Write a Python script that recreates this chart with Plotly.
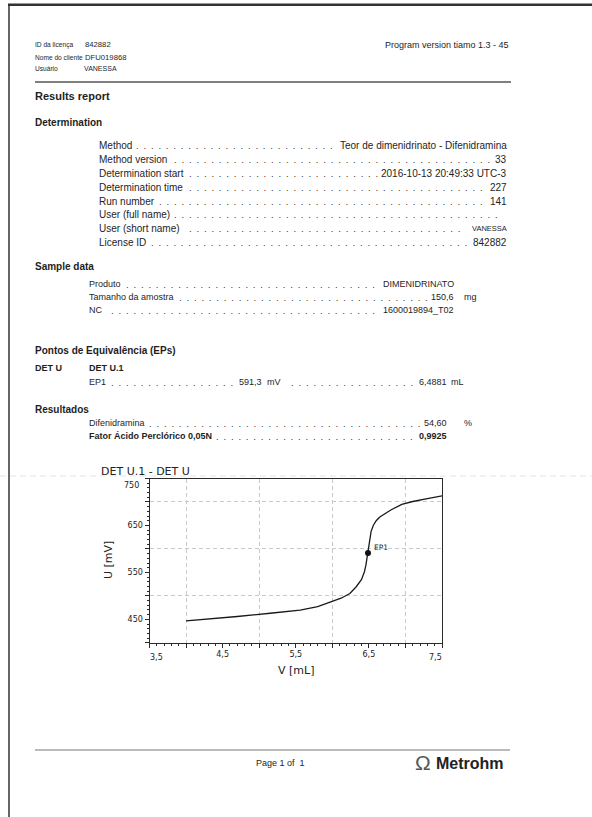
import plotly.graph_objects as go

# ---- page geometry -------------------------------------------------------
W, H = 592, 817
INK = "#1e1e1e"
AX = "#2a2a2a"
GRID = "#c9c9c9"
BODY = "Liberation Sans, Arial, sans-serif"
CHART_FONT = "DejaVu Sans, Verdana, sans-serif"

# ---- report header -------------------------------------------------------
HEADER_LABELS = ["ID da licença", "Nome do cliente", "Usuário"]
HEADER_VALUES = ["842882", "DFU019868", "VANESSA"]
PROGRAM_VERSION = "Program version tiamo 1.3 - 45"

# ---- determination block -------------------------------------------------
DET_LABELS = ["Method", "Method version", "Determination start",
              "Determination time", "Run number", "User (full name)",
              "User (short name)", "License ID"]
DET_VALUES = ["Teor de dimenidrinato - Difenidramina", "33",
              "2016-10-13 20:49:33 UTC-3", "227", "141", "", "VANESSA",
              "842882"]

# ---- sample data ---------------------------------------------------------
SAMPLE_LABELS = ["Produto", "Tamanho da amostra", "NC"]
SAMPLE_VALUES = ["DIMENIDRINATO", "150,6", "1600019894_T02"]
SAMPLE_UNITS = ["", "mg", ""]

# ---- equivalence point ---------------------------------------------------
EP_NAME = "EP1"
EP_U = 591.3      # mV
EP_V = 6.4881     # mL

# ---- results -------------------------------------------------------------
RESULT_LABELS = ["Difenidramina", "Fator Ácido Perclórico 0,05N"]
RESULT_VALUES = ["54,60", "0,9925"]
RESULT_UNITS = ["%", ""]
RESULT_BOLD = [False, True]

# ---- titration curve DET U.1 --------------------------------------------
V_ML = [4.00, 4.35, 4.70, 5.15, 5.56, 5.80, 6.00, 6.12, 6.24, 6.33, 6.40,
        6.44, 6.46, 6.4881, 6.51, 6.53, 6.56, 6.60, 6.65, 6.70, 6.80, 6.95,
        7.10, 7.30, 7.50]
U_MV = [446.5, 451, 456, 463, 469.5, 477, 487.5, 495, 505, 520, 535,
        552, 566, 591.3, 620, 637, 650, 660, 668, 673, 683, 695,
        701, 707, 713]
V_LABELED = [3.5, 4.5, 5.5, 6.5, 7.5]
V_GRID = [4, 5, 6, 7]
U_LABELED = [450, 550, 650, 750]
U_GRID = [500, 600, 700]

# Arial / Liberation Sans advance widths (1/1000 em)
_REG = {" ": 278, "(": 333, ")": 333, ",": 278, "-": 333, ".": 278,
        ":": 278, "_": 556, "%": 889}
_REG.update({d: 556 for d in "0123456789"})
_REG.update(dict(zip("ABCDEFGHIJKLMNOPQRSTUVWXYZ",
                     [667, 667, 722, 722, 667, 611, 778, 722, 278, 500, 667,
                      556, 833, 722, 778, 667, 778, 722, 667, 611, 722, 667,
                      944, 667, 667, 611])))
_REG.update(dict(zip("abcdefghijklmnopqrstuvwxyz",
                     [556, 556, 500, 556, 556, 278, 556, 556, 222, 222, 500,
                      222, 833, 556, 556, 556, 556, 333, 500, 278, 556, 500,
                      722, 500, 500, 500])))
_REG.update({"ç": 500, "á": 556, "ê": 556, "ó": 556, "Á": 667})
_BOLD = {" ": 278, ",": 278, ".": 278, "(": 333, ")": 333}
_BOLD.update({d: 556 for d in "0123456789"})
_BOLD.update({"A": 722, "Á": 722, "F": 611, "N": 722, "P": 667, "a": 556,
              "c": 556, "d": 611, "e": 556, "i": 278, "l": 278, "o": 611,
              "r": 389, "t": 333, "ó": 611})


def text_w(s, size, bold=False):
    table = _BOLD if bold else _REG
    return sum(table.get(c, 556) for c in s) * size / 1000.0


def px(x):
    return x / W


def py(y):
    return 1 - y / H


def fmt_dec(v, nd):
    return f"{v:.{nd}f}".replace(".", ",")


DOT_SIZE = 9.6
DOT_UNIT = ".\u2002"
DOT_STEP = (0.278 + 0.5) * DOT_SIZE

annotations = []


def note(text, x, y, size=10, bold=False, anchor="left", color=INK,
         family=BODY, angle=0):
    annotations.append(dict(
        text=f"<b>{text}</b>" if bold else text,
        x=px(x), y=py(y), xref="paper", yref="paper",
        xanchor=anchor, yanchor="middle", showarrow=False,
        textangle=angle, borderpad=0, borderwidth=0,
        font=dict(size=size, color=color, family=family)))


def leader(x_grid, x_from, x_to, y):
    """Tab leader dots on a fixed grid between two text edges."""
    k0 = int((x_from + 3 - x_grid) / DOT_STEP) + 1
    x0 = x_grid + k0 * DOT_STEP
    n = int((x_to - 3 - 0.278 * DOT_SIZE - x0) / DOT_STEP) + 1
    if n > 0:
        note(DOT_UNIT * (n - 1) + ".", x0, y, size=DOT_SIZE, color="#333")


def leader_row(label, value, y, x_label, x_value, size=10, bold=False):
    note(label, x_label, y, size=size, bold=bold)
    end = x_value
    if value:
        note(value, x_value, y, size=size, bold=bold, anchor="right")
        end = x_value - text_w(value, size, bold)
    leader(x_label, x_label + text_w(label, size, bold), end, y)


# header
for i, (lab, val) in enumerate(zip(HEADER_LABELS, HEADER_VALUES)):
    y = 45 + 12 * i
    note(lab, 35, y, size=6.6)
    if val == "VANESSA":
        note(val, 84, y, size=7)
    else:
        note(val, 85, y, size=7.7)
note(PROGRAM_VERSION, 509, 45, size=9, anchor="right")

note("Results report", 35, 96, size=11, bold=True)
note("Determination", 35, 122, size=10, bold=True)

for i, (lab, val) in enumerate(zip(DET_LABELS, DET_VALUES)):
    y = 146 + 13.8 * i
    if val == "VANESSA":
        note(lab, 99, y)
        leader(99, 99 + text_w(lab, 10), 465, y)
        note(val, 507, y, size=7.5, anchor="right")
    else:
        leader_row(lab, val, y, 99, 507)

note("Sample data", 35, 266, size=10, bold=True)
for i, (lab, val, unit) in enumerate(zip(SAMPLE_LABELS, SAMPLE_VALUES,
                                         SAMPLE_UNITS)):
    y = 284 + 13 * i
    leader_row(lab, val, y, 89, 454, size=9)
    if unit:
        note(unit, 464, y, size=9)

note("Pontos de Equivalência (EPs)", 35, 350, size=10, bold=True)
note("DET U", 35, 368, size=9, bold=True)
note("DET U.1", 89, 368, size=9, bold=True)
y_ep = 382
ep_u_txt = fmt_dec(EP_U, 1)
ep_v_txt = fmt_dec(EP_V, 4)
note(EP_NAME, 89, y_ep, size=9)
note(ep_u_txt, 262, y_ep, size=9, anchor="right")
note("mV", 267, y_ep, size=9)
note(ep_v_txt, 447, y_ep, size=9, anchor="right")
note("mL", 451, y_ep, size=9)
leader(89, 89 + text_w(EP_NAME, 9), 262 - text_w(ep_u_txt, 9), y_ep)
leader(89, 267 + text_w("mV", 9), 447 - text_w(ep_v_txt, 9), y_ep)

note("Resultados", 35, 409, size=10, bold=True)
for i, (lab, val, unit, b) in enumerate(zip(RESULT_LABELS, RESULT_VALUES,
                                            RESULT_UNITS, RESULT_BOLD)):
    y = 423 + 13 * i
    leader_row(lab, val, y, 89, 447, size=9, bold=b)
    if unit:
        note(unit, 464, y, size=9)

# chart captions and edge tick labels (set inward as the instrument prints)
note("DET U.1 - DET U", 101, 472, size=11, family=CHART_FONT, color="#222")
note("U [mV]", 108, 560, size=11, family=CHART_FONT, anchor="center",
     angle=-90, color="#222")
note("V [mL]", 296, 670, size=11, family=CHART_FONT, anchor="center",
     color="#222")
tick_font = dict(family=CHART_FONT, size=8, color="#222")
annotations.append(dict(
    text=str(U_LABELED[-1]), x=0, y=U_LABELED[-1], xref="paper", yref="y",
    xanchor="right", yanchor="middle", xshift=139, yshift=-7,
    showarrow=False, font=tick_font, borderpad=0, borderwidth=0))
annotations.append(dict(
    text=fmt_dec(V_LABELED[0], 1), x=V_LABELED[0], y=py(657),
    xref="x", yref="paper", xanchor="left", yanchor="middle",
    showarrow=False, font=tick_font, borderpad=0, borderwidth=0))
annotations.append(dict(
    text=fmt_dec(V_LABELED[-1], 1), x=V_LABELED[-1], y=py(657),
    xref="x", yref="paper", xanchor="right", yanchor="middle",
    showarrow=False, font=tick_font, borderpad=0, borderwidth=0))
annotations.append(dict(
    text=EP_NAME, x=EP_V, y=EP_U, xref="x", yref="y", xanchor="left",
    yanchor="middle", xshift=6, yshift=6, showarrow=False,
    borderpad=0, borderwidth=0,
    font=dict(size=7.5, color="#222", family=CHART_FONT)))

# top edge of the page frame, drawn as a thin filled bar
annotations.append(dict(
    text=" ", x=px(8), y=py(3.5), xref="paper", yref="paper",
    xanchor="left", yanchor="top", showarrow=False,
    width=W - 8, height=2, bgcolor="#333", borderpad=0, borderwidth=0,
    font=dict(size=1)))

# footer
note("Page 1 of  1", 280, 763, size=9, anchor="center")
note("Ω", 423, 762, size=21, anchor="center", color="#555")
note("Metrohm", 470, 763, size=16, bold=True, anchor="center", color="#222")

fig = go.Figure()
fig.add_trace(go.Scatter(
    x=V_ML, y=U_MV, mode="lines", line=dict(color="#1a1a1a", width=1.3),
    xaxis="x", yaxis="y", hoverinfo="skip", showlegend=False))
fig.add_trace(go.Scatter(
    x=[EP_V], y=[EP_U], mode="markers",
    marker=dict(color="#111", size=6), xaxis="x2", yaxis="y2",
    hoverinfo="skip", showlegend=False))

x_ticks = [3.5 + 0.5 * i for i in range(9)]
x_text = [fmt_dec(v, 1) if v in V_LABELED[1:-1] else "" for v in x_ticks]
y_ticks = [400 + 50 * i for i in range(8)]
y_text = [str(v) if v in U_LABELED[:-1] else "" for v in y_ticks]

fig.update_layout(
    width=W, height=H, margin=dict(l=0, r=0, t=0, b=0),
    paper_bgcolor="white", plot_bgcolor="white",
    separators=",.",
    showlegend=False,
    xaxis=dict(domain=[px(149.5), px(442)], range=[3.5, 7.5],
               tickvals=x_ticks, ticktext=x_text,
               ticks="outside", ticklen=4, tickcolor=AX, tickwidth=1,
               minor=dict(dtick=0.1, ticks="outside", ticklen=2,
                          tickcolor=AX, showgrid=False),
               showgrid=False, zeroline=False, showline=True,
               linecolor=AX, linewidth=1, mirror=True,
               tickfont=tick_font, anchor="y"),
    yaxis=dict(domain=[py(642.8), py(478.5)], range=[400, 750],
               tickvals=y_ticks, ticktext=y_text,
               ticks="outside", ticklen=4, tickcolor=AX, tickwidth=1,
               minor=dict(dtick=10, ticks="outside", ticklen=2,
                          tickcolor=AX, showgrid=False),
               showgrid=False, zeroline=False, showline=True,
               linecolor=AX, linewidth=1, mirror=True,
               tickfont=tick_font, anchor="x"),
    xaxis2=dict(overlaying="x", range=[3.5, 7.5], tickvals=V_GRID,
                showgrid=True, gridcolor=GRID, griddash="4px,3px",
                gridwidth=1, ticks="", showticklabels=False,
                showline=False, zeroline=False, anchor="y2"),
    yaxis2=dict(overlaying="y", range=[400, 750], tickvals=U_GRID,
                showgrid=True, gridcolor=GRID, griddash="4px,3px",
                gridwidth=1, ticks="", showticklabels=False,
                showline=False, zeroline=False, anchor="x2"),
    annotations=annotations,
)

# page frame, header/footer rules and the faint scanner streak
line_shapes = [
    dict(x0=8, x1=W, y0=4.5, y1=4.5, color="#333", width=2, dash="solid",
         layer="above"),
    dict(x0=9, x1=9, y0=4, y1=H, color="#333", width=1.5, dash="solid",
         layer="above"),
    dict(x0=35, x1=511, y0=82, y1=82, color="#555", width=1.5,
         dash="solid", layer="above"),
    dict(x0=35, x1=510, y0=750, y1=750, color="#777", width=1,
         dash="solid", layer="above"),
    dict(x0=0, x1=W, y0=476, y1=476, color="#dfe6e8", width=1,
         dash="6px,4px", layer="below"),
]
for s in line_shapes:
    fig.add_shape(type="line", xref="paper", yref="paper", layer=s["layer"],
                  x0=px(s["x0"]), x1=px(s["x1"]),
                  y0=py(s["y0"]), y1=py(s["y1"]),
                  line=dict(color=s["color"], width=s["width"],
                            dash=s["dash"]))

fig.write_html("out.html", config=dict(displayModeBar=False))
